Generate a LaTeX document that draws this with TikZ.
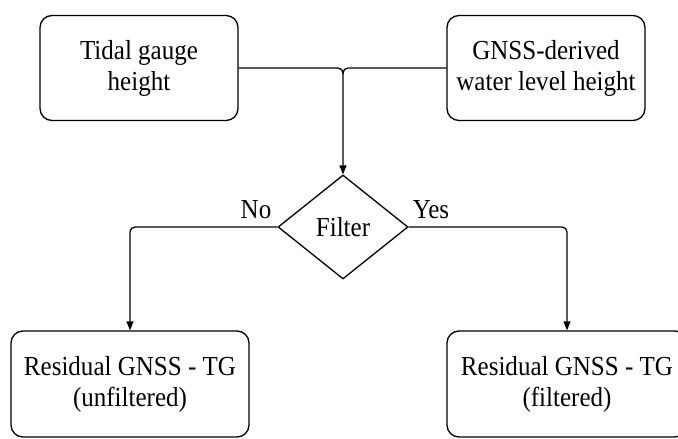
\documentclass[tikz,border=0pt]{standalone}
\usepackage{fontspec}
\setmainfont{Liberation Serif}[FakeStretch=0.91]
\usetikzlibrary{shapes.geometric,arrows.meta}
\begin{document}
\begin{tikzpicture}[x=1pt,y=-1pt,
  box/.style={draw,line width=1.3pt,rounded corners=12pt,minimum width=#1,align=center,inner sep=0pt},
  box/.default=198pt,
  dec/.style={draw,line width=1.3pt,diamond,aspect=1.25,minimum width=130pt,minimum height=104pt,inner sep=0pt},
  conn/.style={line width=1.3pt,rounded corners=5pt},
  arr/.style={conn,-{Triangle[length=9pt,width=7pt]}},
  lbl/.style={font=\fontsize{27.5}{31}\selectfont}]
\useasboundingbox (0,0) rectangle (678,439);
\node[box,minimum height=105pt,lbl] (tg) at (139,68) {Tidal gauge\\height};
\node[box,minimum height=105pt,lbl] (gn) at (546,68) {GNSS-derived\\water level height};
\node[dec,lbl] (f) at (343,227) {Filter};
\node[box=238pt,minimum height=106pt,lbl] (bl) at (130,384) {Residual GNSS - TG\\(unfiltered)};
\node[box=240pt,minimum height=106pt,lbl] (br) at (567,384) {Residual GNSS - TG\\(filtered)};
\coordinate (j) at (343,68);
\draw[conn] (tg.east) -- (j) -- ++(0,6);
\draw[arr] (gn.west) -- (j) -- (f.north);
\draw[arr] (f.west) -| (bl.north);
\draw[arr] (f.east) -| (br.north);
\node[lbl] (no) at (256,210) {No};
\node[lbl] (yes) at (431,210) {Yes};
\end{tikzpicture}
\end{document}
